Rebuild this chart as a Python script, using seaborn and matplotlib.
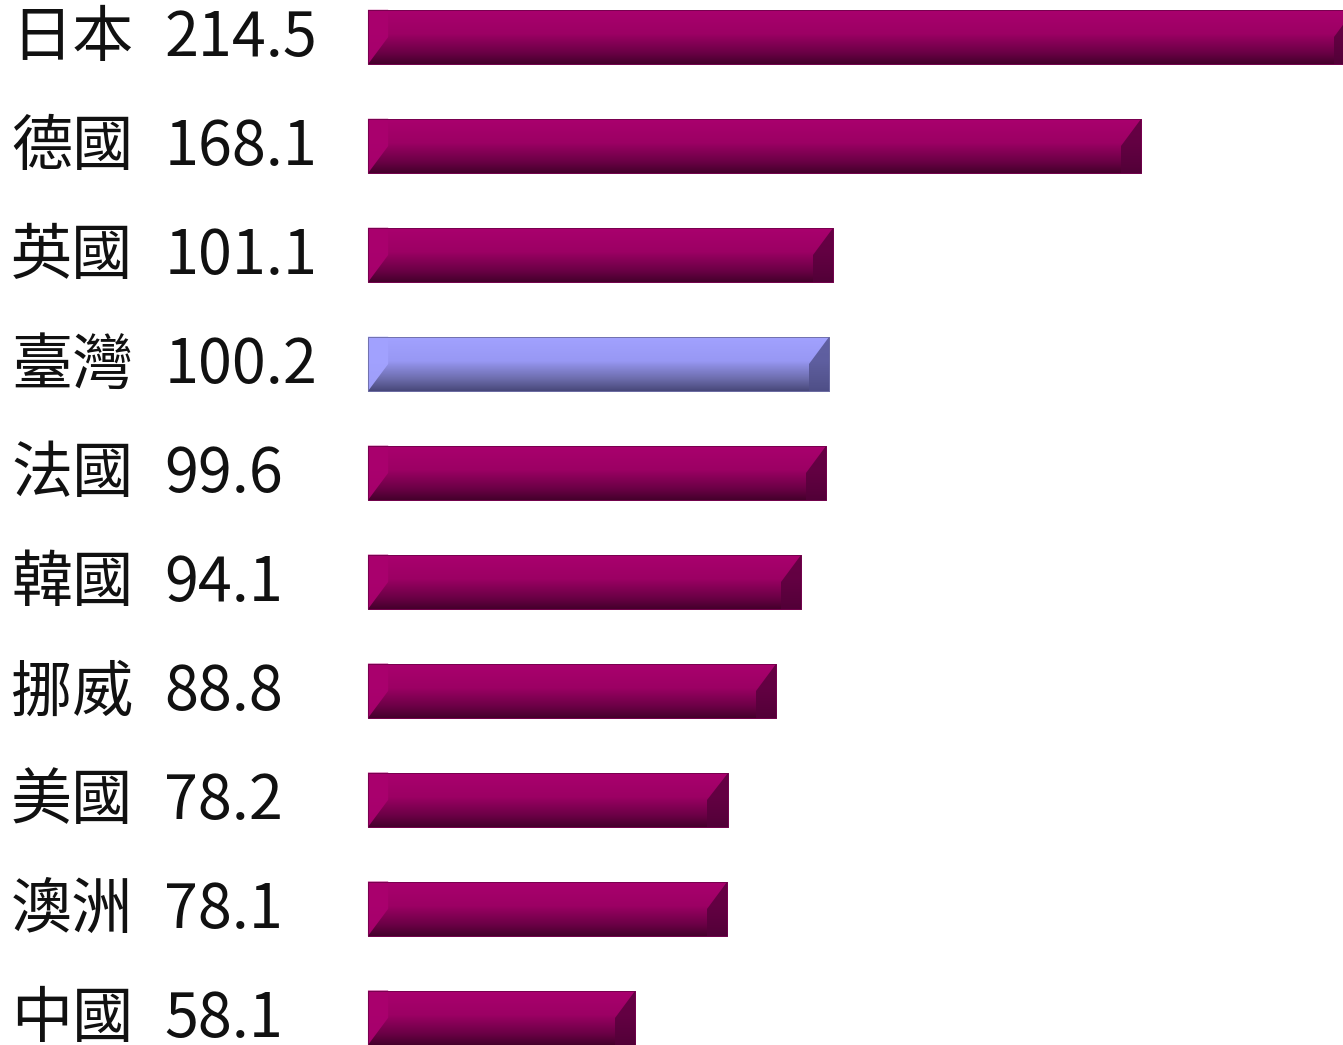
import numpy as np
import matplotlib
matplotlib.use("Agg")
import matplotlib.pyplot as plt
import matplotlib.colors as mcolors
from matplotlib.patches import Polygon
import seaborn as sns
import pandas as pd

# Categories and values
countries = ["日本", "德國", "英國", "臺灣", "法國", "韓國", "挪威", "美國", "澳洲", "中國"]
values = [214.5, 168.1, 101.1, 100.2, 99.6, 94.1, 88.8, 78.2, 78.1, 58.1]
value_labels = ["214.5", "168.1", "101.1", "100.2", "99.6", "94.1", "88.8", "78.2", "78.1", "58.1"]
highlight = "臺灣"

sns.set_theme(style="white")
plt.rcParams["font.family"] = ["Noto Sans CJK TC", "DejaVu Sans"]

# Colour ramps (top -> bottom) for the two bar styles
magenta = {"top": "#aa006e", "mid": "#9c0064", "low": "#6a0045", "bottom": "#45002c",
           "cap_light": "#aa006e", "cap_dark": "#55003a", "edge": "#70004a"}
lavender = {"top": "#a2a2ff", "mid": "#9898f4", "low": "#6a6aa8", "bottom": "#48487a",
            "cap_light": "#a2a2ff", "cap_dark": "#50508a", "edge": "#6a6aa0"}

df = pd.DataFrame({"country": countries, "value": values})
palette = {c: (lavender["top"] if c == highlight else magenta["top"]) for c in countries}

fig = plt.figure(figsize=(13.43, 10.45), dpi=100)
ax = fig.add_axes([0, 0, 1, 1])

sns.barplot(data=df, x="value", y="country", hue="country", palette=palette,
            orient="h", width=0.5, legend=False, ax=ax, saturation=1)

xlim = (-80.0, 212.0)
ylim = (9.25, -0.34)

for patch, country in zip(ax.patches, countries):
    scheme = lavender if country == highlight else magenta
    x0, y0 = patch.get_x(), patch.get_y()
    w, h = patch.get_width(), patch.get_height()
    x1 = x0 + w
    top, bottom = y0, y0 + h  # y axis runs downward
    mid = y0 + h / 2

    # vertical shading across the bar
    cmap = mcolors.LinearSegmentedColormap.from_list(
        "shade", [(0.0, scheme["top"]), (0.45, scheme["mid"]),
                  (0.8, scheme["low"]), (1.0, scheme["bottom"])])
    grad = np.linspace(0, 1, 128).reshape(-1, 1)
    im = ax.imshow(grad, cmap=cmap, aspect="auto", origin="upper",
                   extent=(x0, x1, bottom, top), interpolation="bilinear", zorder=2)
    im.set_clip_path(patch)
    patch.set_edgecolor(scheme["edge"])
    patch.set_linewidth(0.6)
    patch.set_zorder(1)

    # bevelled end caps
    b = 4.4
    left_cap = Polygon([(x0, top), (x0 + b, top), (x0 + b, mid), (x0, bottom)],
                       closed=True, facecolor=scheme["cap_light"], edgecolor="none",
                       alpha=0.95, zorder=3)
    ax.add_patch(left_cap)
    right_cap = Polygon([(x1, top), (x1, bottom), (x1 - b, bottom), (x1 - b, mid)],
                        closed=True, facecolor=scheme["cap_dark"], edgecolor="none",
                        alpha=0.8, zorder=3)
    ax.add_patch(right_cap)
    outline = Polygon([(x0, top), (x1, top), (x1, bottom), (x0, bottom)], closed=True,
                      facecolor="none", edgecolor=scheme["edge"], linewidth=0.6, zorder=4)
    ax.add_patch(outline)

# Category names and values on the left
for i, (name, lab) in enumerate(zip(countries, value_labels)):
    ax.text(-77.6, i + 0.02, name, fontsize=44, va="center", ha="left", color="#111111")
    ax.text(-44.3, i + 0.02, lab, fontsize=44, va="center", ha="left", color="#111111")

ax.set_xlim(*xlim)
ax.set_ylim(*ylim)
ax.set_axis_off()

fig.savefig("out.png", dpi=100)
